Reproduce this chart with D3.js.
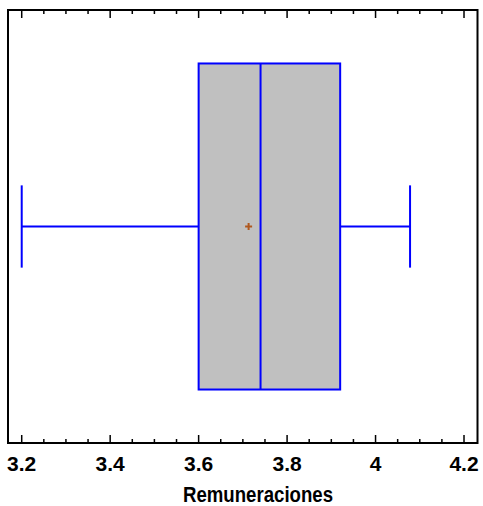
<!DOCTYPE html>
<html>
<head>
<meta charset="utf-8">
<script src="https://cdn.jsdelivr.net/npm/d3@7"></script>
<style>
  body { margin: 0; background: #fff; }
  text { font-family: "Liberation Sans", Arial, sans-serif; font-weight: bold; }
</style>
</head>
<body>
<div id="container"></div>
<script>
"use strict";

// box plot summary
const stats = { min: 3.2, q1: 3.6, median: 3.74, q3: 3.92, max: 4.078, mean: 3.713 };
const majorTicks = [3.2, 3.4, 3.6, 3.8, 4.0, 4.2];
const tickLabels = ["3.2", "3.4", "3.6", "3.8", "4", "4.2"];
const xTitle = "Remuneraciones";

const width = 483, height = 506;
const frame = { left: 8, right: 477.5, top: 10, bottom: 443 };

const svg = d3.select("#container")
    .append("svg")
    .attr("width", width)
    .attr("height", height);

// scales
const x = d3.scaleLinear().domain([3.169, 4.2305]).range([frame.left, frame.right]);
const y = d3.scaleLinear().domain([-1, 1]).range([frame.bottom, frame.top]);

// minor + major ticks on top and bottom, pointing inward
const minorTicks = d3.range(3.2, 4.2001, 0.05);
const axisG = svg.append("g");
axisG.selectAll(".minor")
    .data(minorTicks)
    .join("g")
    .each(function (d) {
        const major = majorTicks.some((m) => Math.abs(m - d) < 1e-6);
        const len = major ? 8 : 4;
        const g = d3.select(this);
        g.append("line")
            .attr("x1", x(d)).attr("x2", x(d))
            .attr("y1", frame.bottom).attr("y2", frame.bottom - len)
            .attr("stroke", "#000").attr("stroke-width", 1.5);
        g.append("line")
            .attr("x1", x(d)).attr("x2", x(d))
            .attr("y1", frame.top).attr("y2", frame.top + len)
            .attr("stroke", "#000").attr("stroke-width", 1.5);
    });

// tick labels
svg.selectAll(".tick-label")
    .data(majorTicks)
    .join("text")
    .attr("class", "tick-label")
    .attr("x", (d) => x(d))
    .attr("y", 471)
    .attr("text-anchor", "middle")
    .style("font-size", "21px")
    .text((d, i) => tickLabels[i]);

// axis title
svg.append("text")
    .attr("x", 258)
    .attr("y", 502)
    .attr("text-anchor", "middle")
    .attr("textLength", 150)
    .attr("lengthAdjust", "spacingAndGlyphs")
    .style("font-size", "22px")
    .text(xTitle);

// box and whiskers
const boxHalf = 0.753, capHalf = 0.19;
const blue = "#0000ff";

svg.append("line")
    .attr("x1", x(stats.min)).attr("x2", x(stats.q1))
    .attr("y1", y(0)).attr("y2", y(0))
    .attr("stroke", blue).attr("stroke-width", 2);
svg.append("line")
    .attr("x1", x(stats.q3)).attr("x2", x(stats.max))
    .attr("y1", y(0)).attr("y2", y(0))
    .attr("stroke", blue).attr("stroke-width", 2);

[stats.min, stats.max].forEach((v) => {
    svg.append("line")
        .attr("x1", x(v)).attr("x2", x(v))
        .attr("y1", y(capHalf)).attr("y2", y(-capHalf))
        .attr("stroke", blue).attr("stroke-width", 2);
});

svg.append("rect")
    .attr("x", x(stats.q1))
    .attr("y", y(boxHalf))
    .attr("width", x(stats.q3) - x(stats.q1))
    .attr("height", y(-boxHalf) - y(boxHalf))
    .attr("fill", "#c0c0c0")
    .attr("stroke", blue)
    .attr("stroke-width", 2);

svg.append("line")
    .attr("x1", x(stats.median)).attr("x2", x(stats.median))
    .attr("y1", y(boxHalf)).attr("y2", y(-boxHalf))
    .attr("stroke", blue).attr("stroke-width", 2);

// mean marker
const mx = x(stats.mean), my = y(0);
svg.append("path")
    .attr("d", `M${mx - 3.5},${my}H${mx + 3.5}M${mx},${my - 3.5}V${my + 3.5}`)
    .attr("stroke", "#b0581e")
    .attr("stroke-width", 2)
    .attr("fill", "none");

// frame
svg.append("rect")
    .attr("x", frame.left)
    .attr("y", frame.top)
    .attr("width", frame.right - frame.left)
    .attr("height", frame.bottom - frame.top)
    .attr("fill", "none")
    .attr("stroke", "#000")
    .attr("stroke-width", 2);
</script>
</body>
</html>
